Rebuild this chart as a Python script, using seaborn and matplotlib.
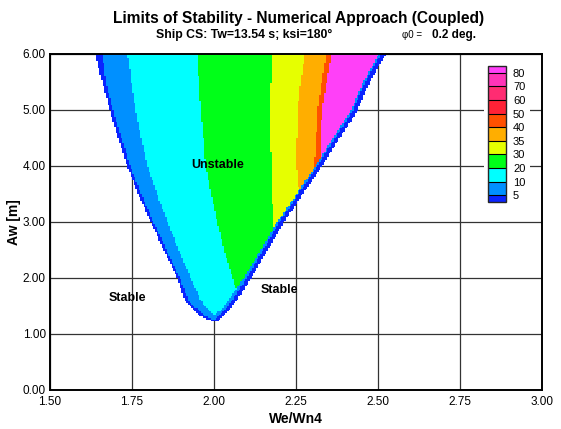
import numpy as np
import pandas as pd
import matplotlib
matplotlib.use("Agg")
import matplotlib.pyplot as plt
import seaborn as sns
from matplotlib.colors import ListedColormap, BoundaryNorm
from matplotlib.cm import ScalarMappable
from matplotlib.patches import Rectangle
from matplotlib.ticker import MultipleLocator, FormatStrFormatter

# ---------------- data ----------------
# wave amplitude rows (m) at which the band edges (We/Wn4) were read
aw_rows      = [1.25, 1.35, 1.45, 1.60, 2.00, 2.50, 3.00, 3.50, 4.00, 4.50, 5.00, 5.50, 6.00]
edge_left    = [1.990, 1.955, 1.940, 1.913, 1.890, 1.850, 1.810, 1.772, 1.738, 1.710, 1.685, 1.662, 1.640]
blue_left    = [2.000, 1.970, 1.952, 1.925, 1.898, 1.858, 1.818, 1.781, 1.747, 1.720, 1.695, 1.672, 1.662]
cyan_left    = [2.000, 2.000, 1.982, 1.963, 1.932, 1.895, 1.861, 1.829, 1.800, 1.780, 1.764, 1.750, 1.739]
green_left   = [2.090, 2.090, 2.090, 2.085, 2.058, 2.034, 2.013, 1.993, 1.977, 1.970, 1.962, 1.956, 1.951]
yellow_left  = [2.300, 2.300, 2.300, 2.300, 2.300, 2.190, 2.184, 2.178, 2.176, 2.174, 2.173, 2.175, 2.179]
orange_left  = [2.300, 2.300, 2.300, 2.300, 2.300, 2.300, 2.300, 2.262, 2.254, 2.255, 2.257, 2.266, 2.280]
orred_left   = [2.350, 2.350, 2.350, 2.350, 2.350, 2.350, 2.350, 2.350, 2.308, 2.314, 2.318, 2.330, 2.344]
violet_left  = [2.360, 2.360, 2.360, 2.360, 2.360, 2.360, 2.360, 2.360, 2.325, 2.328, 2.331, 2.345, 2.359]
blue_right   = [2.000, 2.000, 2.025, 2.044, 2.092, 2.143, 2.194, 2.252, 2.310, 2.364, 2.419, 2.456, 2.503]
dark_right   = [2.000, 2.022, 2.036, 2.056, 2.100, 2.150, 2.200, 2.258, 2.316, 2.370, 2.425, 2.462, 2.509]
edge_right   = [2.010, 2.030, 2.045, 2.066, 2.110, 2.160, 2.210, 2.268, 2.326, 2.380, 2.435, 2.472, 2.521]

# colour levels (legend)
level_bounds = [5, 10, 20, 30, 35, 40, 50, 60, 70, 80]
level_names  = ["<5", "5-10", "10-20", "20-30", "30-35", "35-40", "40-50", "50-60", "60-70", "70-80", ">80"]
level_colors = ["#0A24FF", "#0090FF", "#00FFFF", "#00FF18", "#E6FF00", "#FFAE00",
                "#FF5000", "#FF2236", "#FF2C72", "#FF34B8", "#FF40F8"]

x_ticks = [1.50, 1.75, 2.00, 2.25, 2.50, 2.75, 3.00]
y_ticks = [0.0, 1.0, 2.0, 3.0, 4.0, 5.0, 6.0]

# ---------------- build the field of cells ----------------
band_order = [None, "<5", "5-10", "10-20", "20-30", "30-35", "35-40", "40-50", ">80", "5-10", "<5"]
edges = [edge_left, blue_left, cyan_left, green_left, yellow_left, orange_left,
         orred_left, violet_left, blue_right, dark_right, edge_right]

xs = np.arange(1.62, 2.535, 0.005)
ys = np.arange(1.25, 6.0001, 0.03)
rx, ry, rl = [], [], []
for yv in ys:
    b = np.array([np.interp(yv, aw_rows, e) for e in edges])
    b[3:8] = np.clip(b[3:8], b[2], b[8])
    idx = np.searchsorted(b, xs, side="right")
    for xv, k in zip(xs, idx):
        if 1 <= k <= 10:
            rx.append(xv); ry.append(yv); rl.append(band_order[k])
df = pd.DataFrame({"We/Wn4": rx, "Aw": ry, "level": rl})
palette = dict(zip(level_names, level_colors))

# ---------------- figure ----------------
sns.set_style("white")
plt.rcParams["font.family"] = ["Liberation Sans", "DejaVu Sans"]
plt.rcParams.update({"text.color": "black", "axes.labelcolor": "black",
                     "xtick.color": "black", "ytick.color": "black"})

fig = plt.figure(figsize=(5.61, 4.29), dpi=100)
ax = fig.add_axes([50/561, 1-390/429, 492/561, 336/429])

sns.scatterplot(data=df, x="We/Wn4", y="Aw", hue="level", palette=palette,
                marker="s", s=4.5, linewidth=0, legend=False, ax=ax, zorder=2)

ax.set_xlim(1.5, 3.0)
ax.set_ylim(0.0, 6.0)
ax.set_xticks(x_ticks)
ax.set_yticks(y_ticks)
ax.xaxis.set_major_formatter(FormatStrFormatter("%.2f"))
ax.yaxis.set_major_formatter(FormatStrFormatter("%.2f"))
ax.xaxis.set_minor_locator(MultipleLocator(0.05))
ax.yaxis.set_minor_locator(MultipleLocator(0.2))
ax.tick_params(axis="both", which="both", direction="in", labelsize=8.5,
               top=False, right=False, color="black", labelcolor="black")
ax.tick_params(which="major", length=5, width=0.8)
ax.tick_params(which="minor", length=5, width=0.8)
ax.tick_params(axis="x", pad=4)
ax.tick_params(axis="y", pad=3)
ax.grid(True, which="major", color="#333333", linewidth=0.9)
ax.set_axisbelow(True)
for sp in ax.spines.values():
    sp.set_color("black")
    sp.set_linewidth(1.4)

ax.set_xlabel("We/Wn4", fontsize=10, fontweight="bold", labelpad=3, color="black")
ax.set_ylabel("Aw [m]", fontsize=10, fontweight="bold", labelpad=1, color="black")

ax.text(2.012, 4.02, "Unstable", fontsize=9, fontweight="bold", ha="center", va="center", zorder=5)
ax.text(1.735, 1.64, "Stable", fontsize=9, fontweight="bold", ha="center", va="center", zorder=5)
ax.text(2.20, 1.79, "Stable", fontsize=9, fontweight="bold", ha="center", va="center", zorder=5)

fig.text(299/561, 1-19/429, "Limits of Stability - Numerical Approach (Coupled)",
         fontsize=11.2, fontweight="bold", ha="center", va="center")
fig.text(244/561, 1-35/429, "Ship CS: Tw=13.54 s; ksi=180°",
         fontsize=8.8, fontweight="bold", ha="center", va="center")
fig.text(402/561, 1-35/429, "φ0 = ", fontsize=7, ha="left", va="center")
fig.text(432/561, 1-35/429, "0.2 deg.", fontsize=8.5, fontweight="bold", ha="left", va="center")

# legend colour bar
fig.patches.append(Rectangle((484/561, 1-208/429), 46/561, 148/429, transform=fig.transFigure,
                             facecolor="white", edgecolor="none", zorder=1.5))
cax = fig.add_axes([488/561, 1-202/429, 18/561, 136/429])
cax.set_zorder(3)
cmap = ListedColormap(level_colors[1:-1])
cmap.set_under(level_colors[0])
cmap.set_over(level_colors[-1])
norm = BoundaryNorm(level_bounds, cmap.N)
cb = fig.colorbar(ScalarMappable(norm=norm, cmap=cmap), cax=cax, extend="both",
                  extendrect=True, extendfrac=0.5/9, drawedges=True,
                  spacing="uniform", ticks=level_bounds)
cb.ax.set_yticklabels([str(v) for v in level_bounds])
cb.ax.tick_params(length=0, labelsize=8, pad=5, labelcolor="black")
cb.outline.set_linewidth(1.0)
cb.dividers.set_color("black")
cb.dividers.set_linewidth(0.8)

fig.savefig("out.png", dpi=100)
